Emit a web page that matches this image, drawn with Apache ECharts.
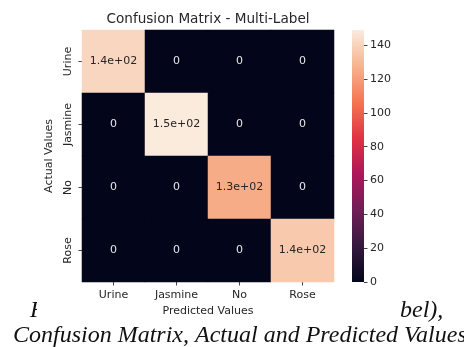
<!DOCTYPE html>
<html>
<head>
<meta charset="utf-8">
<script src="https://cdn.jsdelivr.net/npm/echarts@6/dist/echarts.min.js"></script>
<style>
html,body{margin:0;padding:0;background:#fff;}
#c{width:464px;height:347px;}
</style>
</head>
<body>
<div id="c"></div>
<script>
// ---- data ----
const predictedLabels = ['Urine', 'Jasmine', 'No', 'Rose'];
const actualLabels = ['Urine', 'Jasmine', 'No', 'Rose'];
// rows = actual, cols = predicted
const rowUrine = [141, 0, 0, 0];
const rowJasmine = [0, 149, 0, 0];
const rowNo = [0, 0, 125, 0];
const rowRose = [0, 0, 0, 136];
const colorbarTicks = [0, 20, 40, 60, 80, 100, 120, 140];
const colorMin = 0;
const colorMax = 149;
const titleText = 'Confusion Matrix - Multi-Label';
const xName = 'Predicted Values';
const yName = 'Actual Values';
const captionLine1Left = 'F';
const captionLine1Right = 'bel),';
const captionLine2 = 'Confusion Matrix, Actual and Predicted Values';

const rocket = ['#03051a', '#35193e', '#701f57', '#ad1759', '#e13342', '#f37651', '#f6b48f', '#faebdd'];

const rows = [rowUrine, rowJasmine, rowNo, rowRose];
const heatData = [];
rows.forEach((r, yi) => r.forEach((v, xi) => heatData.push([xi, yi, v])));

function fmt2g(v) {
  if (v === 0) return '0';
  if (Math.abs(v) >= 100) {
    const e = Math.floor(Math.log10(Math.abs(v)));
    const m = (v / Math.pow(10, e)).toFixed(1);
    return m + 'e+' + String(e).padStart(2, '0');
  }
  return String(Number(v.toPrecision(2)));
}

const FONT = '"DejaVu Sans", sans-serif';
const TXT = '#262626';
const gridL = 82, gridT = 30, gridW = 252, gridH = 252;

const chart = echarts.init(document.getElementById('c'), null, {renderer: 'canvas'});
chart.setOption({
  animation: false,
  backgroundColor: '#fff',
  grid: [
    {left: gridL, top: gridT, width: gridW, height: gridH},
    {left: 352, top: gridT, width: 12, height: gridH}
  ],
  xAxis: [
    {
      type: 'category', gridIndex: 0, data: predictedLabels,
      axisLine: {show: false},
      axisTick: {show: true, alignWithLabel: true, length: 3.5, lineStyle: {color: '#444'}},
      axisLabel: {fontFamily: FONT, fontSize: 11, color: TXT, margin: 8},
      splitLine: {show: false}
    },
    {
      type: 'category', gridIndex: 1, data: ['c'], show: false
    }
  ],
  yAxis: [
    {
      type: 'category', gridIndex: 0, data: actualLabels, inverse: true,
      axisLine: {show: false},
      axisTick: {show: true, alignWithLabel: true, length: 3.5, lineStyle: {color: '#444'}},
      axisLabel: {fontFamily: FONT, fontSize: 11, color: TXT, rotate: 90, margin: 8},
      name: yName, nameLocation: 'middle', nameGap: 22, nameRotate: 90,
      nameTextStyle: {fontFamily: FONT, fontSize: 11, color: TXT},
      splitLine: {show: false}
    },
    {
      type: 'value', gridIndex: 1, position: 'right', min: colorMin, max: colorMax,
      axisLine: {show: false},
      axisTick: {show: true, length: 3.5, lineStyle: {color: '#444'}, customValues: colorbarTicks},
      axisLabel: {fontFamily: FONT, fontSize: 11, color: TXT, margin: 6, customValues: colorbarTicks},
      splitLine: {show: false}
    }
  ],
  visualMap: {
    show: false, min: colorMin, max: colorMax, seriesIndex: 0, dimension: 2,
    inRange: {color: rocket}
  },
  series: [
    {
      type: 'heatmap', xAxisIndex: 0, yAxisIndex: 0, data: heatData,
      label: {
        show: true,
        formatter: p => {
          const v = p.value[2];
          return (v > colorMax * 0.5 ? '{d|' : '{l|') + fmt2g(v) + '}';
        },
        rich: {
          d: {fontFamily: FONT, fontSize: 11, color: '#262626'},
          l: {fontFamily: FONT, fontSize: 11, color: '#e8e8e8'}
        }
      },
      emphasis: {disabled: true}
    },
    {
      type: 'bar', xAxisIndex: 1, yAxisIndex: 1, data: [colorMax], barWidth: '100%',
      itemStyle: {
        color: {
          type: 'linear', x: 0, y: 1, x2: 0, y2: 0,
          colorStops: rocket.map((c, i) => ({offset: i / (rocket.length - 1), color: c}))
        }
      },
      silent: true
    }
  ],
  graphic: [
    {type: 'text', x: 208, y: 12, z: 10,
      style: {text: titleText, font: '13.6px "DejaVu Sans", sans-serif', fill: TXT, textAlign: 'center'}},
    {type: 'text', x: 30, y: 299, z: 10,
      style: {text: captionLine1Left, font: 'italic 24px "Liberation Serif", serif', fill: '#111'}},
    {type: 'rect', x: 37, y: 300, z: 11, shape: {width: 360, height: 24}, style: {fill: '#fff'}},
    {type: 'text', x: 208, y: 306, z: 12,
      style: {text: xName, font: '11px "DejaVu Sans", sans-serif', fill: TXT, textAlign: 'center'}},
    {type: 'text', x: 400, y: 299, z: 10,
      style: {text: captionLine1Right, font: 'italic 24px "Liberation Serif", serif', fill: '#111'}},
    {type: 'text', x: 13, y: 324, z: 10,
      style: {text: captionLine2, font: 'italic 24px "Liberation Serif", serif', fill: '#111'}}
  ]
});
</script>
</body>
</html>
